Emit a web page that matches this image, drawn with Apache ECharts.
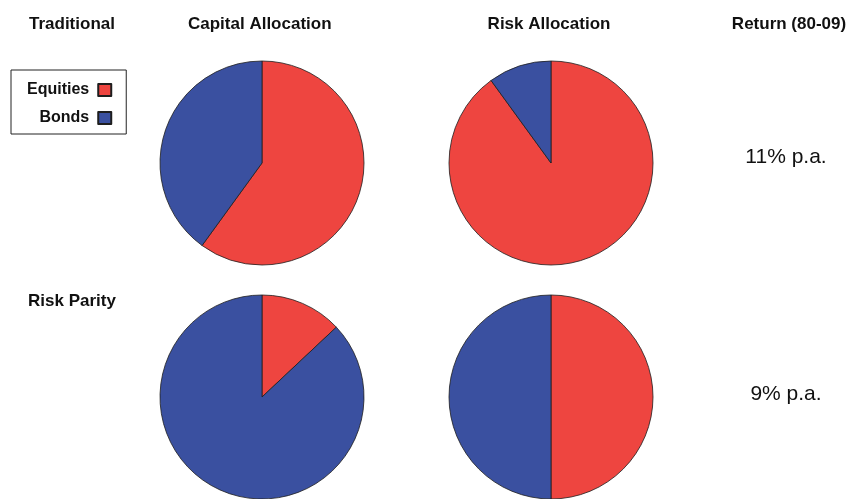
<!DOCTYPE html>
<html>
<head>
<meta charset="utf-8">
<script src="https://cdn.jsdelivr.net/npm/echarts@6/dist/echarts.min.js"></script>
<style>
  html, body { margin: 0; padding: 0; background: #ffffff; }
  #chart { width: 850px; height: 499px; }
</style>
</head>
<body>
<div id="chart"></div>
<script>
// Asset classes and their shares (percent)
const categories = ['Equities', 'Bonds'];
const traditionalCapital = [60, 40];
const traditionalRisk = [90, 10];
const parityCapital = [13, 87];
const parityRisk = [50, 50];

// Labels
const rowTitles = ['Traditional', 'Risk Parity'];
const columnTitles = ['Capital Allocation', 'Risk Allocation', 'Return (80-09)'];
const annualReturns = ['11% p.a.', '9% p.a.'];

const colors = ['#EE4540', '#3A50A0'];
const font = 'Liberation Sans, Arial, Helvetica, sans-serif';

function pieSeries(values, cx, cy) {
  return {
    type: 'pie',
    center: [cx, cy],
    radius: 102,
    startAngle: 90,
    clockwise: true,
    silent: true,
    label: { show: false },
    labelLine: { show: false },
    emphasis: { disabled: true },
    itemStyle: { borderColor: '#1e1e1e', borderWidth: 0.8 },
    data: categories.map((name, i) => ({
      name: name,
      value: values[i],
      itemStyle: { color: colors[i] }
    }))
  };
}

function headText(text, x, y, align, size, weight) {
  return {
    type: 'text',
    x: x,
    y: y,
    silent: true,
    style: {
      text: text,
      align: align,
      verticalAlign: 'middle',
      fill: '#111111',
      font: (weight || 'bold') + ' ' + (size || 17) + 'px ' + font
    }
  };
}

const chart = echarts.init(document.getElementById('chart'), null, { renderer: 'canvas' });

chart.setOption({
  animation: false,
  backgroundColor: '#ffffff',
  color: colors,
  legend: {
    data: categories,
    orient: 'vertical',
    align: 'right',
    left: 11,
    top: 70,
    padding: [12, 14, 8, 16],
    itemGap: 12,
    itemWidth: 13,
    itemHeight: 12,
    icon: 'rect',
    selectedMode: false,
    borderColor: '#222222',
    borderWidth: 1,
    textStyle: {
      fontFamily: font,
      fontWeight: 'bold',
      fontSize: 16,
      color: '#111111',
      padding: [0, 4, 0, 0]
    }
  },
  series: [
    pieSeries(traditionalCapital, 262, 163),
    pieSeries(traditionalRisk, 551, 163),
    pieSeries(parityCapital, 262, 397),
    pieSeries(parityRisk, 551, 397)
  ],
  graphic: [
    headText(rowTitles[0], 29, 24, 'left'),
    headText(columnTitles[0], 188, 24, 'left'),
    headText(columnTitles[1], 549, 24, 'center'),
    headText(columnTitles[2], 789, 24, 'center'),
    headText(rowTitles[1], 28, 301, 'left'),
    headText(annualReturns[0], 786, 157, 'center', 21, 'normal'),
    headText(annualReturns[1], 786, 394, 'center', 21, 'normal')
  ]
});
</script>
</body>
</html>
